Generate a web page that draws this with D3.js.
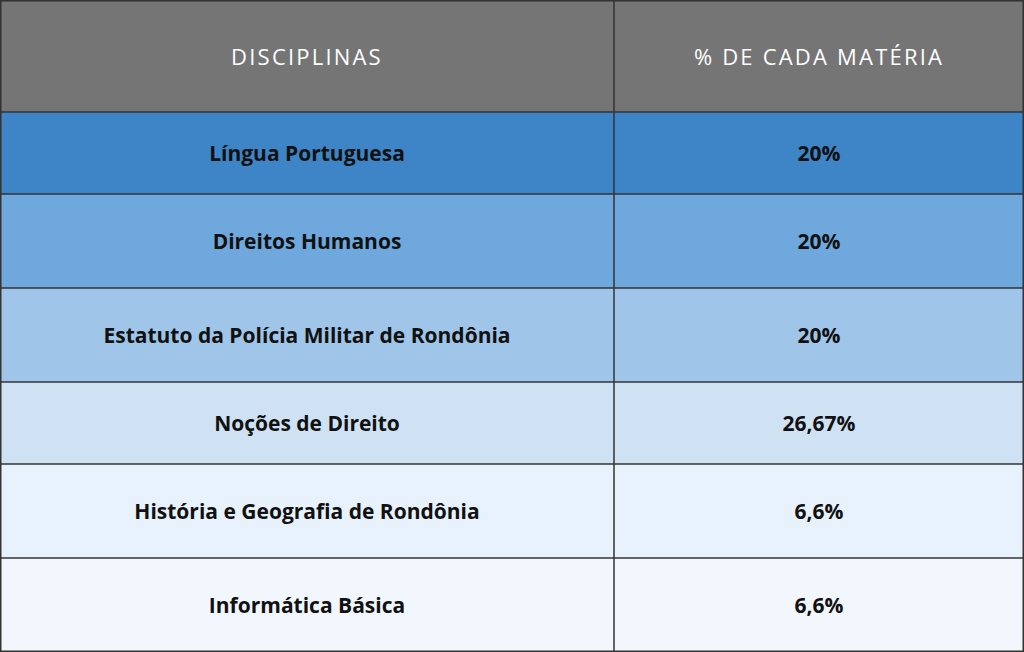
<!DOCTYPE html>
<html><head><meta charset="utf-8">
<script src="https://cdn.jsdelivr.net/npm/d3@7"></script>
<style>body{margin:0;background:#fff}</style>
</head><body>
<svg id="t" width="1024" height="652"></svg>
<script>
const headers = ["DISCIPLINAS", "% DE CADA MATÉRIA"];
const disciplinas = ["Língua Portuguesa", "Direitos Humanos", "Estatuto da Polícia Militar de Rondônia",
  "Noções de Direito", "História e Geografia de Rondônia", "Informática Básica"];
const percentuais = ["20%", "20%", "20%", "26,67%", "6,6%", "6,6%"];
const rowColors = ["#3d85c6", "#6fa8dc", "#9fc5e8", "#cfe2f3", "#e8f2fc", "#f1f7fd"];
const rowEdges = [0, 112, 194, 288, 382, 464, 558, 652];

const svg = d3.select("#t");
const colX = [0, 614, 1024];

svg.append("rect").attr("x", 0).attr("y", 0).attr("width", 1024).attr("height", rowEdges[1]).attr("fill", "#757575");
headers.forEach((h, i) => {
  svg.append("text").attr("x", (colX[i] + colX[i + 1]) / 2).attr("y", rowEdges[1] / 2)
    .attr("text-anchor", "middle").attr("dominant-baseline", "central")
    .attr("font-family", "Open Sans").attr("font-size", 22).attr("letter-spacing", 2.2)
    .attr("fill", "#fff").text(h);
});

const rows = svg.selectAll("g.row").data(disciplinas).enter().append("g").attr("class", "row");
rows.append("rect").attr("x", 0).attr("y", (d, i) => rowEdges[i + 1])
  .attr("width", 1024).attr("height", (d, i) => rowEdges[i + 2] - rowEdges[i + 1])
  .attr("fill", (d, i) => rowColors[i]);
rows.append("text").attr("x", (colX[0] + colX[1]) / 2)
  .attr("y", (d, i) => (rowEdges[i + 1] + rowEdges[i + 2]) / 2)
  .attr("text-anchor", "middle").attr("dominant-baseline", "central")
  .attr("font-family", "Open Sans").attr("font-weight", "bold").attr("font-size", 21)
  .attr("fill", "#111").text(d => d);
rows.append("text").attr("x", (colX[1] + colX[2]) / 2)
  .attr("y", (d, i) => (rowEdges[i + 1] + rowEdges[i + 2]) / 2)
  .attr("text-anchor", "middle").attr("dominant-baseline", "central")
  .attr("font-family", "Open Sans").attr("font-weight", "bold").attr("font-size", 21)
  .attr("fill", "#111").text((d, i) => percentuais[i]);

// grid lines
rowEdges.slice(1, -1).forEach(y => {
  svg.append("line").attr("x1", 0).attr("x2", 1024).attr("y1", y).attr("y2", y)
    .attr("stroke", "#333").attr("stroke-width", 1.5);
});
svg.append("line").attr("x1", colX[1]).attr("x2", colX[1]).attr("y1", 0).attr("y2", 652)
  .attr("stroke", "#333").attr("stroke-width", 1.5);
svg.append("rect").attr("x", 0.75).attr("y", 0.75).attr("width", 1022.5).attr("height", 650.5)
  .attr("fill", "none").attr("stroke", "#333").attr("stroke-width", 1.5);
</script>
</body></html>
